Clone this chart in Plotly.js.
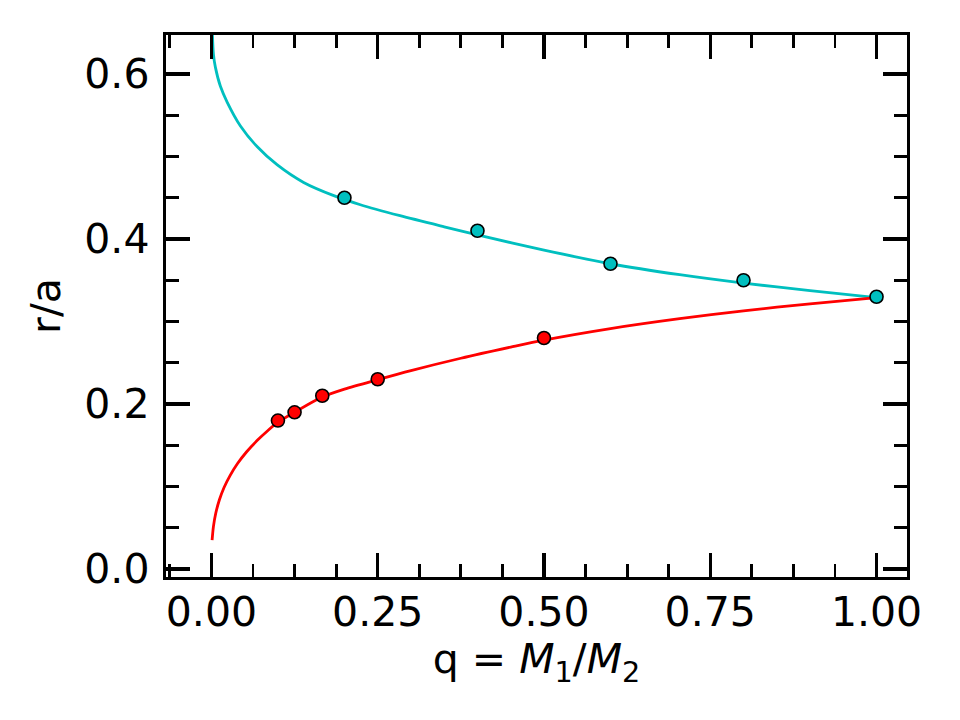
<!DOCTYPE html>
<html>
<head>
<meta charset="utf-8">
<script src="https://cdn.plot.ly/plotly-3.0.1.min.js"></script>
<style>
  html, body { margin: 0; padding: 0; background: #ffffff; }
  #chart { width: 960px; height: 720px; }
</style>
</head>
<body>
<div id="chart"></div>
<script>
// Roche-lobe radius curves r/a against mass ratio q
const upperCurveQ = [0.001, 0.003, 0.006, 0.0135, 0.0236, 0.0436, 0.0686, 0.0986, 0.1386, 0.184, 0.224, 0.2836, 0.35, 0.40, 0.50, 0.60, 0.704, 0.80, 0.90, 1.00];
const upperCurveR = [0.662, 0.624, 0.608, 0.585, 0.566, 0.537, 0.512, 0.490, 0.4685, 0.4525, 0.4415, 0.4282, 0.4148, 0.405, 0.3865, 0.370, 0.3567, 0.3465, 0.3375, 0.329];

const lowerCurveQ = [0.001, 0.003, 0.0065, 0.012, 0.019, 0.028, 0.039, 0.053, 0.069, 0.085, 0.100, 0.125, 0.1667, 0.20, 0.25, 0.30, 0.375, 0.45, 0.50, 0.60, 0.704, 0.80, 0.90, 1.00];
const lowerCurveR = [0.035, 0.0515, 0.0676, 0.084, 0.0989, 0.1133, 0.1276, 0.1422, 0.156, 0.168, 0.178, 0.190, 0.2085, 0.218, 0.2295, 0.2405, 0.2555, 0.269, 0.2775, 0.2915, 0.3035, 0.313, 0.3215, 0.329];

// Measured points
const upperPointsQ = [0.2, 0.4, 0.6, 0.8, 1.0];
const upperPointsR = [0.45, 0.41, 0.37, 0.35, 0.33];
const lowerPointsQ = [0.1, 0.125, 1 / 6, 0.25, 0.5];
const lowerPointsR = [0.18, 0.19, 0.21, 0.23, 0.28];

const cyan = '#00bfbf';
const red = '#ff0000';
const fontFamily = '"DejaVu Sans", "Liberation Sans", sans-serif';

const traces = [
  { x: upperCurveQ, y: upperCurveR, mode: 'lines', line: { color: cyan, width: 2.8, shape: 'spline', smoothing: 0.8 }, hoverinfo: 'skip' },
  { x: lowerCurveQ, y: lowerCurveR, mode: 'lines', line: { color: red, width: 2.8, shape: 'spline', smoothing: 0.8 }, hoverinfo: 'skip' },
  { x: upperPointsQ, y: upperPointsR, mode: 'markers', marker: { color: cyan, size: 13, line: { color: '#000000', width: 1.6 } } },
  { x: lowerPointsQ, y: lowerPointsR, mode: 'markers', marker: { color: red, size: 13, line: { color: '#000000', width: 1.6 } } }
];

const axisCommon = {
  showgrid: false,
  zeroline: false,
  showline: true,
  linecolor: '#000000',
  linewidth: 3.3,
  mirror: 'allticks',
  ticks: 'inside',
  ticklen: 24,
  tickwidth: 3.3,
  tickcolor: '#000000',
  tickfont: { family: fontFamily, size: 41, color: '#000000' }
};

const layout = {
  width: 960,
  height: 720,
  showlegend: false,
  paper_bgcolor: '#ffffff',
  plot_bgcolor: '#ffffff',
  margin: { l: 166, r: 53, t: 35, b: 143 },
  xaxis: Object.assign({}, axisCommon, {
    range: [-0.0683, 1.0458],
    tickmode: 'linear', tick0: 0, dtick: 0.25, tickformat: '.2f',
    ticklabelstandoff: -4,
    minor: { tickmode: 'linear', tick0: 0, dtick: 0.0625, ticks: 'inside', ticklen: 13, tickwidth: 2.8, tickcolor: '#000000' },
    title: { text: 'q = <i>M</i><sub>1</sub>/<i>M</i><sub>2</sub>', font: { family: fontFamily, size: 41, color: '#000000' }, standoff: 4 }
  }),
  yaxis: Object.assign({}, axisCommon, {
    range: [-0.0096, 0.6472],
    tickmode: 'linear', tick0: 0, dtick: 0.2, tickformat: '.1f',
    ticklabelstandoff: 5,
    minor: { tickmode: 'linear', tick0: 0, dtick: 0.05, ticks: 'inside', ticklen: 13, tickwidth: 2.8, tickcolor: '#000000' },
    title: { text: 'r/a', font: { family: fontFamily, size: 41, color: '#000000' }, standoff: 12 }
  })
};

Plotly.newPlot('chart', traces, layout, { staticPlot: true, displayModeBar: false });
</script>
</body>
</html>
